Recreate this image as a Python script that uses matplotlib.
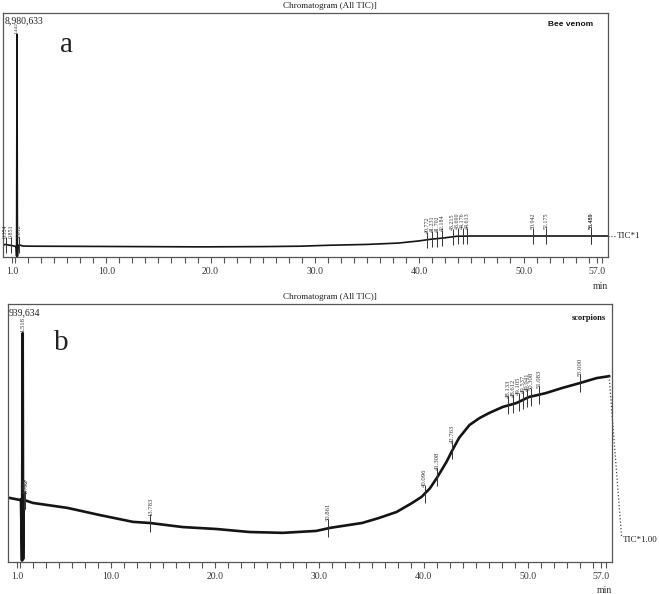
import numpy as np
import matplotlib
matplotlib.use("Agg")
import matplotlib.pyplot as plt
from matplotlib.ticker import FixedLocator, MultipleLocator

plt.rcParams['font.family'] = ['Liberation Serif', 'DejaVu Serif']

# ---- panel a: bee venom TIC ----
a_time = [0.1, 0.3, 0.6, 0.9, 1.2, 1.36, 1.40, 1.44, 1.48, 1.53, 1.7, 2.0, 2.9,
          10.0, 19.0, 25.0, 28.6, 31.4, 35.0, 38.0, 40.0, 41.1, 42.4, 43.6,
          45.0, 50.0, 55.0, 58.1]
a_tic = [440e3, 470e3, 450e3, 430e3, 410e3, 380e3, 40e3, 8.2e6, 30e3, 420e3,
         450e3, 410e3, 405e3, 395e3, 380e3, 390e3, 405e3, 440e3, 470e3, 520e3,
         600e3, 660e3, 710e3, 770e3, 780e3, 780e3, 780e3, 780e3]
a_max = 8980633
a_peaks = [0.35, 0.85, 1.62, 40.77, 41.23, 41.70, 42.18, 43.22, 43.69,
           44.18, 44.61, 50.94, 52.18, 56.46, 56.49]
a_peak_labels = ["0.354", "0.851", "1.612", "40.772", "41.231",
                 "41.702", "42.184", "43.215", "43.690", "44.176", "44.613",
                 "50.942", "52.175", "56.455", "56.489"]
a_top_label = "1.442"

# ---- panel b: scorpion venom TIC ----
b_time = [0.29, 1.25, 1.35, 1.45, 1.52, 1.56, 1.62, 2.5, 5.8, 8.9, 12.1, 13.7,
          16.9, 20.1, 23.3, 26.5, 29.7, 31.0, 34.1, 35.7, 37.4, 38.9, 39.8,
          40.6, 41.3, 42.2, 42.8, 43.4, 44.4, 45.35, 46.3, 47.6, 48.9, 50.1,
          51.7, 53.3, 55.0, 56.6, 57.8]
b_tic = [233e3, 226e3, 228e3, 5e3, 834e3, 10e3, 226e3, 215e3, 197e3, 171e3,
         146e3, 142e3, 127e3, 120e3, 109e3, 106e3, 113e3, 124e3, 142e3, 160e3,
         182e3, 215e3, 237e3, 268e3, 308e3, 365e3, 410e3, 452e3, 499e3, 524e3,
         543e3, 565e3, 579e3, 601e3, 615e3, 634e3, 652e3, 670e3, 677e3]
b_max = 939634
b_peaks = [1.64, 1.70, 1.78, 13.78, 30.86, 40.10, 41.31, 42.76, 48.13, 48.61,
           49.11, 49.54, 49.94, 50.31, 51.08, 55.00]
b_peak_labels = ["1.641", "1.703", "1.782", "13.783", "30.861", "40.096",
                 "41.308", "42.763", "48.133", "48.612", "49.105", "49.537",
                 "49.941", "50.308", "51.083", "55.000"]
b_top_label = "1.518"

x_ticks = [1.0, 10.0, 20.0, 30.0, 40.0, 50.0, 57.0]
x_lim = (0.1, 58.1)

fig = plt.figure(figsize=(6.59, 5.94), dpi=100)
ax_a = fig.add_axes([0.0046, 0.567, 0.918, 0.411])
ax_b = fig.add_axes([0.012, 0.054, 0.917, 0.434])

ink = '#141414'


def style_axis(ax, ymax):
    ax.set_xlim(*x_lim)
    ax.set_ylim(0, ymax)
    ax.xaxis.set_major_locator(FixedLocator(x_ticks))
    ax.xaxis.set_minor_locator(MultipleLocator(1.25))
    ax.set_xticklabels(["%.1f" % t for t in x_ticks], fontsize=7, color='#333')
    ax.tick_params(axis='x', which='both', direction='out', length=4,
                   width=0.8, color='#555', pad=3)
    ax.set_yticks([])
    for s in ax.spines.values():
        s.set_color('#555')
        s.set_linewidth(0.9)


def mark_peaks(ax, t, y, peaks, labels, ms, fs, gap):
    heights = np.interp(peaks, t, y)
    ax.plot(peaks, heights, ls='none', marker='|', ms=ms, mew=0.7, color='#333')
    for p, h, lab in zip(peaks, heights, labels):
        ax.annotate(lab, xy=(p, h), xytext=(0, gap), textcoords='offset points',
                    rotation=90, ha='center', va='bottom', fontsize=fs,
                    color='#333')


# panel a
style_axis(ax_a, a_max)
ax_a.plot(a_time, a_tic, color=ink, lw=1.2)
mark_peaks(ax_a, a_time, a_tic, a_peaks, a_peak_labels, 11, 4.3, 5)
ax_a.annotate(a_top_label, xy=(1.44, 8.2e6), xytext=(0, 0),
              textcoords='offset points', rotation=90, ha='center',
              va='bottom', fontsize=3.8, color='#333')
ax_a.text(0.003, 0.985, "8,980,633", transform=ax_a.transAxes, fontsize=7,
          ha='left', va='top', color='#222')
ax_a.text(0.105, 0.87, "a", transform=ax_a.transAxes, fontsize=21,
          ha='center', va='center', color='#222')
ax_a.text(0.975, 0.955, "Bee venom", transform=ax_a.transAxes, fontsize=6,
          fontweight='bold', family=['Liberation Sans', 'DejaVu Sans'],
          ha='right', va='center', color='#111')
ax_a.plot([58.1, 58.8], [780e3, 780e3], ls=':', lw=0.8, color='#444',
          clip_on=False)
ax_a.text(58.95, 780e3, "TIC*1", fontsize=6.5, ha='left', va='center',
          color='#222', clip_on=False)
ax_a.text(1.0, -0.1, "min", transform=ax_a.transAxes, fontsize=7,
          ha='right', va='top', color='#333')

# panel b
style_axis(ax_b, b_max)
ax_b.plot(b_time, b_tic, color=ink, lw=1.9)
mark_peaks(ax_b, b_time, b_tic, b_peaks, b_peak_labels, 13, 4.8, 5)
ax_b.annotate(b_top_label, xy=(1.52, 834e3), xytext=(0, 1),
              textcoords='offset points', rotation=90, ha='center',
              va='bottom', fontsize=4.8, color='#333')
ax_b.text(0.002, 0.985, "939,634", transform=ax_b.transAxes, fontsize=7,
          ha='left', va='top', color='#222')
ax_b.text(0.088, 0.85, "b", transform=ax_b.transAxes, fontsize=21,
          ha='center', va='center', color='#222')
ax_b.text(0.99, 0.945, "scorpions", transform=ax_b.transAxes, fontsize=6,
          fontweight='bold', ha='right', va='center', color='#111')
ax_b.plot([57.8, 59.0], [677e3, 91e3], ls=':', lw=0.9, color='#444',
          clip_on=False)
ax_b.text(59.1, 80e3, "TIC*1.00", fontsize=6.5, ha='left', va='center',
          color='#222', clip_on=False)
ax_b.text(1.0, -0.095, "min", transform=ax_b.transAxes, fontsize=7,
          ha='right', va='top', color='#333')

fig.text(330 / 659, 1 - 6 / 594, "Chromatogram (All TIC)]", fontsize=6.5,
         ha='center', va='center', color='#222')
fig.text(330 / 659, 1 - 297 / 594, "Chromatogram (All TIC)]", fontsize=6.5,
         ha='center', va='center', color='#222')

fig.savefig("out.png", dpi=100)
